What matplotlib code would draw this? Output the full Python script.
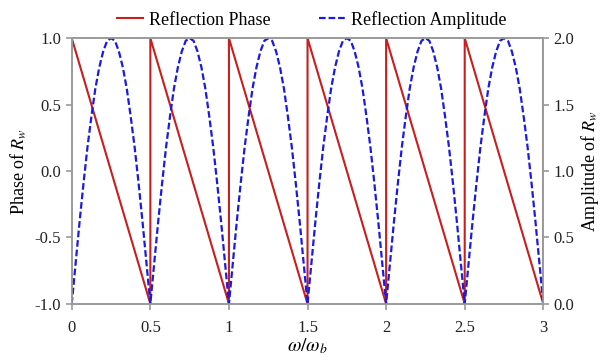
import numpy as np
import matplotlib
matplotlib.use('Agg')
import matplotlib.pyplot as plt

# phase: sawtooth, drops from 1 to -1 over each half period, then jumps back
phase_x = [0, 0.5, 0.5, 1.0, 1.0, 1.5, 1.5, 2.0, 2.0, 2.5, 2.5, 3.0, 3.0]
phase_y = [1, -1, 1, -1, 1, -1, 1, -1, 1, -1, 1, -1, 1]

# amplitude: one arch (step 0.025), repeats every 0.5
arch_dx = [0, 0.025, 0.05, 0.075, 0.1, 0.125, 0.15, 0.175, 0.2, 0.225, 0.25,
           0.275, 0.3, 0.325, 0.35, 0.375, 0.4, 0.425, 0.45, 0.475]
arch_amp = [0, 0.31, 0.62, 0.91, 1.18, 1.41, 1.62, 1.78, 1.90, 1.98, 2.0,
            1.98, 1.90, 1.78, 1.62, 1.41, 1.18, 0.91, 0.62, 0.31]
periods = [0, 0.5, 1.0, 1.5, 2.0, 2.5]

amp_x = [p + d for p in periods for d in arch_dx] + [3.0]
amp_y = arch_amp * len(periods) + [0]

xticks = [0, 0.5, 1, 1.5, 2, 2.5, 3]
xtick_labels = ['0', '0.5', '1', '1.5', '2', '2.5', '3']

plt.rcParams['font.family'] = ['Liberation Serif', 'DejaVu Serif']
plt.rcParams['mathtext.fontset'] = 'stix'

red = '#c81e1e'
blue = '#1a1ae0'
gray = '#9a9a9a'

fig = plt.figure(figsize=(6.03, 3.6), dpi=100)
ax = fig.add_axes([0.119, 0.156, 0.782, 0.738])
ax2 = ax.twinx()

l1, = ax.plot(phase_x, phase_y, '-', color=red, lw=1.5)
l2, = ax2.plot(amp_x, amp_y, color=blue, lw=1.6, linestyle=(0, (3, 1.3)))

ax.set_xlim(0, 3)
ax.set_ylim(-1, 1)
ax2.set_ylim(0, 2)
ax.set_xticks(xticks)
ax.set_xticklabels(xtick_labels)
ax.set_yticks([-1.0, -0.5, 0.0, 0.5, 1.0])
ax.set_yticklabels(['-1.0', '-0.5', '0.0', '0.5', '1.0'])
ax2.set_yticks([0.0, 0.5, 1.0, 1.5, 2.0])
ax2.set_yticklabels(['0.0', '0.5', '1.0', '1.5', '2.0'])

for a in (ax, ax2):
    for s in a.spines.values():
        s.set_color(gray)
        s.set_linewidth(1.2)
    a.tick_params(direction='out', color=gray, length=4.5, width=1.2,
                  labelsize=12, labelcolor='#222222', pad=3)
ax.tick_params(axis='x', pad=7)

ax.set_xlabel(r'$\omega/\omega_b$', fontsize=14, labelpad=0)
ax.set_ylabel(r'Phase of $R_w$', fontsize=13, labelpad=4)
ax2.set_ylabel(r'Amplitude of $R_w$', fontsize=13, labelpad=3)

fig.legend([l1, l2], ['Reflection Phase', 'Reflection Amplitude'],
           loc='center', bbox_to_anchor=(0.517, 0.945), ncol=2, frameon=False,
           fontsize=13, handlelength=1.45, columnspacing=2.7, handletextpad=0.3)

plt.savefig('out.png', dpi=100)
